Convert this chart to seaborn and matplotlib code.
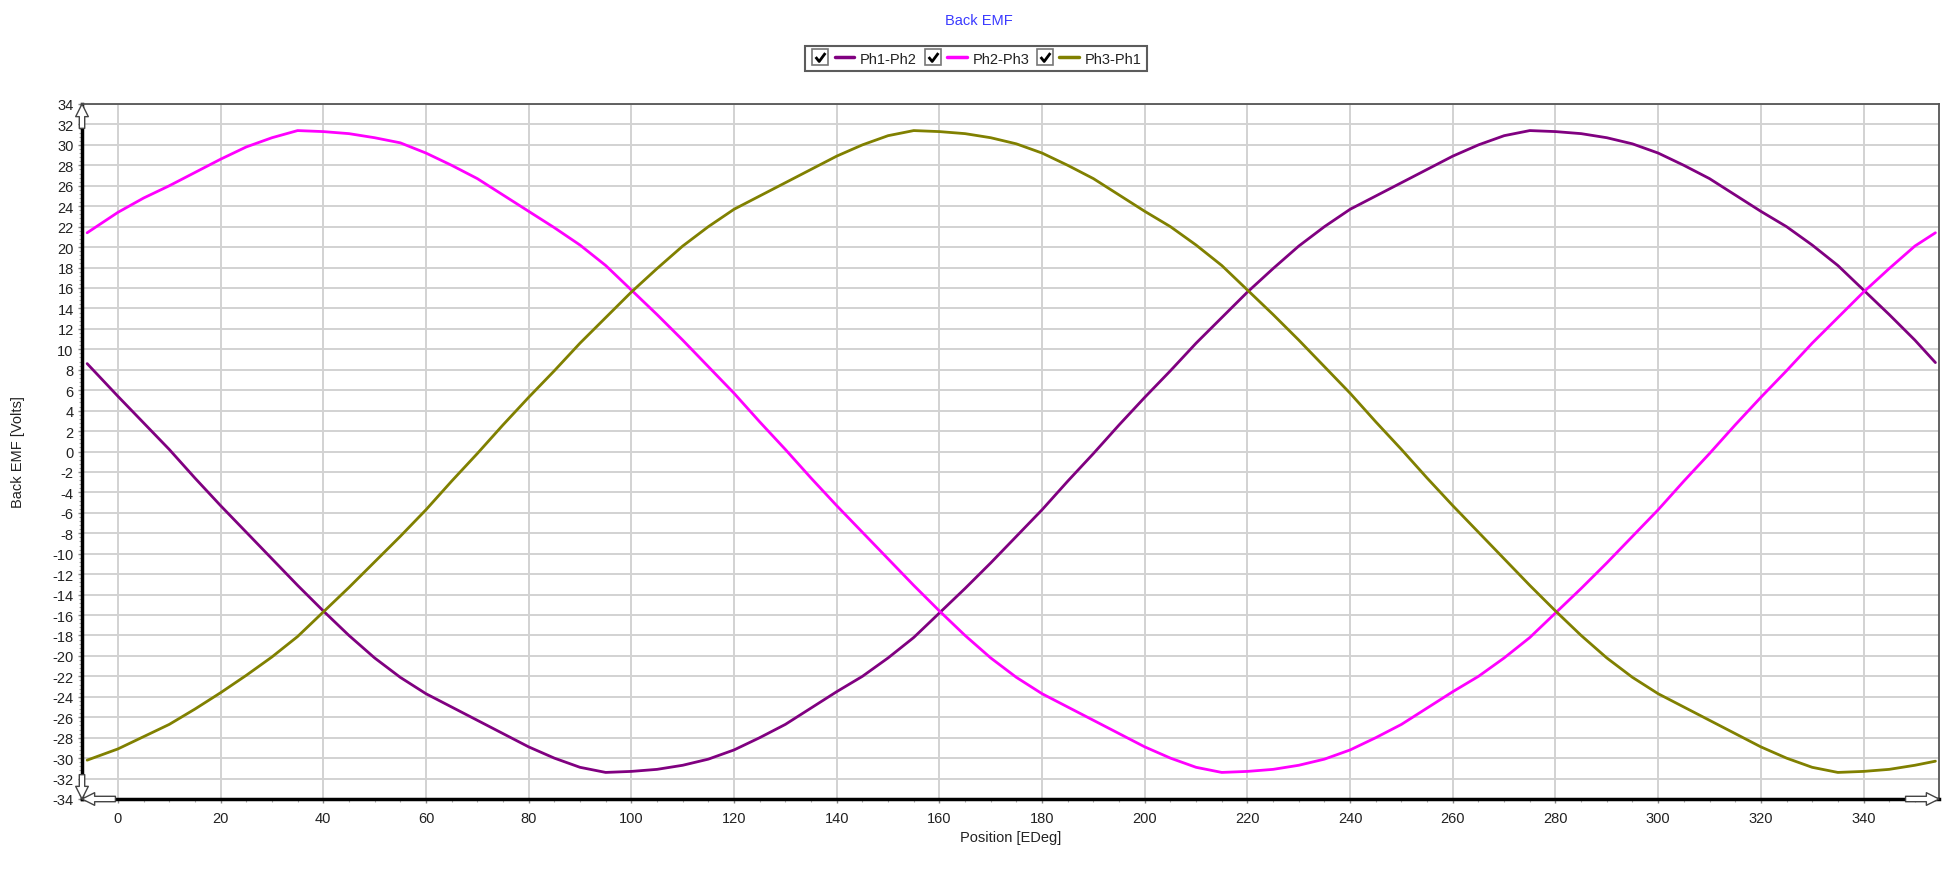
import numpy as np
import pandas as pd
import matplotlib
matplotlib.use("Agg")
import matplotlib.pyplot as plt
import seaborn as sns
from matplotlib.lines import Line2D
from matplotlib.path import Path
from matplotlib.legend_handler import HandlerTuple
from matplotlib.ticker import MultipleLocator

# -----------------------------
# Data
# -----------------------------
position = [-6] + list(range(0, 355, 5)) + [354]

ph1_ph2 = [8.6,
           5.4, 2.8, 0.2, -2.6, -5.3, -7.9, -10.5, -13.1, -15.6, -18.0,
           -20.2, -22.1, -23.7, -25.0, -26.3, -27.6, -28.9, -30.0, -30.9, -31.4,
           -31.3, -31.1, -30.7, -30.1, -29.2, -28.0, -26.7, -25.1, -23.5, -22.0,
           -20.2, -18.2, -15.8, -13.4, -10.9, -8.3, -5.7, -2.9, -0.2, 2.6,
           5.3, 7.9, 10.6, 13.1, 15.6, 17.9, 20.1, 22.0, 23.7, 25.0,
           26.3, 27.6, 28.9, 30.0, 30.9, 31.4, 31.3, 31.1, 30.7, 30.1,
           29.2, 28.0, 26.7, 25.1, 23.5, 22.0, 20.2, 18.2, 15.8, 13.4,
           10.9,
           8.7]

ph2_ph3 = [21.4,
           23.4, 24.8, 26.0, 27.3, 28.6, 29.8, 30.7, 31.4, 31.3, 31.1,
           30.7, 30.2, 29.2, 28.0, 26.7, 25.1, 23.5, 21.9, 20.2, 18.2,
           15.8, 13.4, 10.9, 8.3, 5.7, 2.9, 0.2, -2.6, -5.3, -7.9,
           -10.5, -13.1, -15.6, -18.0, -20.2, -22.1, -23.7, -25.0, -26.3, -27.6,
           -28.9, -30.0, -30.9, -31.4, -31.3, -31.1, -30.7, -30.1, -29.2, -28.0,
           -26.7, -25.1, -23.5, -22.0, -20.2, -18.2, -15.8, -13.4, -10.9, -8.3,
           -5.7, -2.9, -0.2, 2.6, 5.3, 7.9, 10.6, 13.1, 15.6, 17.9,
           20.1,
           21.4]

ph3_ph1 = [-30.2,
           -29.1, -27.9, -26.7, -25.2, -23.6, -21.9, -20.1, -18.1, -15.7, -13.3,
           -10.8, -8.3, -5.7, -2.9, -0.2, 2.6, 5.3, 7.9, 10.6, 13.1,
           15.6, 17.9, 20.1, 22.0, 23.7, 25.0, 26.3, 27.6, 28.9, 30.0,
           30.9, 31.4, 31.3, 31.1, 30.7, 30.1, 29.2, 28.0, 26.7, 25.1,
           23.5, 22.0, 20.2, 18.2, 15.8, 13.4, 10.9, 8.3, 5.7, 2.9,
           0.2, -2.6, -5.3, -7.9, -10.5, -13.1, -15.6, -18.0, -20.2, -22.1,
           -23.7, -25.0, -26.3, -27.6, -28.9, -30.0, -30.9, -31.4, -31.3, -31.1,
           -30.7,
           -30.3]

series_names = ["Ph1-Ph2", "Ph2-Ph3", "Ph3-Ph1"]
series_colors = ["#800080", "#ff00ff", "#808000"]

df = pd.concat([
    pd.DataFrame({"Position": position, "Volts": vals, "Series": name})
    for name, vals in zip(series_names, [ph1_ph2, ph2_ph3, ph3_ph1])
])

# -----------------------------
# Figure
# -----------------------------
sns.set_theme(style="white")
plt.rcParams["font.family"] = ["Liberation Sans", "DejaVu Sans"]
plt.rcParams["axes.unicode_minus"] = False

W, H = 1957, 870
fig = plt.figure(figsize=(W / 100, H / 100), dpi=100)
ax = fig.add_axes([82 / W, 1 - 800 / H, (1939 - 82) / W, (800 - 105) / H])

sns.lineplot(data=df, x="Position", y="Volts", hue="Series",
             palette=dict(zip(series_names, series_colors)),
             linewidth=2.0, legend=False, ax=ax, sort=False)

ax.set_xlim(-7, 354.7)
ax.set_ylim(-34, 34)
ax.set_xticks(range(0, 341, 20))
ax.set_yticks(range(-34, 35, 2))
ax.xaxis.set_minor_locator(MultipleLocator(5))
ax.yaxis.set_minor_locator(MultipleLocator(0.4))
ax.grid(which="major", color="#d2d2d2", linewidth=1.4)
ax.set_axisbelow(True)

ax.tick_params(axis="both", which="major", labelsize=10.5, labelcolor="#222222",
               color="#888888", length=3, width=1, direction="out")
ax.tick_params(axis="x", which="major", pad=6)
ax.tick_params(axis="y", which="major", pad=3)
ax.tick_params(axis="both", which="minor", color="#aaaaaa", length=2.5,
               width=0.8, direction="out")
ax.tick_params(left=True, bottom=True, which="both")

for side in ["left", "bottom"]:
    ax.spines[side].set_color("black")
    ax.spines[side].set_linewidth(2.5)
for side in ["top", "right"]:
    ax.spines[side].set_color("#555555")
    ax.spines[side].set_linewidth(1.3)

ax.set_xlabel("Position [EDeg]", fontsize=10.5, color="#222222")
ax.set_ylabel("Back EMF [Volts]", fontsize=10.5, color="#222222")
ax.xaxis.set_label_coords(0.5, -0.044)
ax.yaxis.set_label_coords(-0.0305, 0.5)

# hollow axis arrows
arrow = dict(arrowstyle="simple,head_length=0.7,head_width=0.7,tail_width=0.3",
             fc="white", ec="#444444", lw=1.0, mutation_scale=13, shrinkA=0, shrinkB=0)
for start, end in [((0, 0.965), (0, 1.0)), ((0, 0.035), (0, 0.0)),
                   ((0.018, 0), (0.0, 0)), ((0.982, 0), (1.0, 0))]:
    ax.annotate("", xy=end, xytext=start, xycoords="axes fraction",
                textcoords="axes fraction", arrowprops=arrow, annotation_clip=False)

# title
fig.text(0.5, 1 - 21 / H, "Back EMF", ha="center", va="center",
         fontsize=10.5, color="#3a3aff")

# legend with check boxes
check_path = Path([(-0.55, 0.05), (-0.15, -0.45), (0.55, 0.5)],
                  [Path.MOVETO, Path.LINETO, Path.LINETO])
handles = []
for c in series_colors:
    box = Line2D([], [], marker="s", markersize=11, markerfacecolor="white",
                 markeredgecolor="#777777", markeredgewidth=1.2, linestyle="none")
    tick = Line2D([], [], marker=check_path, markersize=7, markerfacecolor="none",
                  markeredgecolor="black", markeredgewidth=2.0, linestyle="none")
    line = Line2D([], [], color=c, linewidth=2.5)
    handles.append(((box, tick), line))

leg = fig.legend(handles, series_names, loc="center",
                 bbox_to_anchor=(976 / W, 1 - 59.5 / H), ncol=3,
                 fontsize=10.5, handlelength=3.0, handletextpad=0.4,
                 columnspacing=0.4, borderpad=0.35, frameon=True, fancybox=False,
                 handler_map={h: HandlerTuple(ndivide=None, pad=0.3) for h in handles})
leg.get_frame().set_edgecolor("#333333")
leg.get_frame().set_linewidth(1.5)
for t in leg.get_texts():
    t.set_color("#222222")

fig.savefig("out.png", dpi=100, facecolor="white")
